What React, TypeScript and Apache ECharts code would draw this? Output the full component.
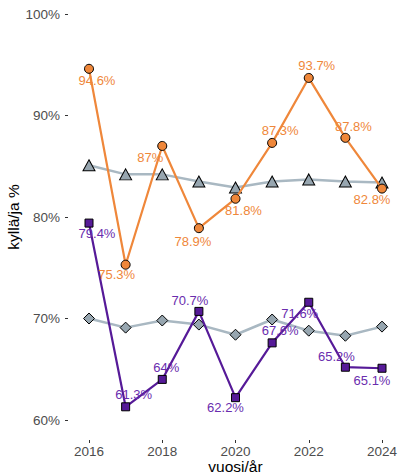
import React, { useEffect, useRef } from "react";
import * as echarts from "echarts";

const years = ["2016", "2017", "2018", "2019", "2020", "2021", "2022", "2023", "2024"];
const orangeValues = [94.6, 75.3, 87, 78.9, 81.8, 87.3, 93.7, 87.8, 82.8];
const purpleValues = [79.4, 61.3, 64, 70.7, 62.2, 67.6, 71.6, 65.2, 65.1];
const grayTriangleValues = [85.1, 84.2, 84.2, 83.5, 82.9, 83.5, 83.7, 83.5, 83.4];
const grayDiamondValues = [70.0, 69.1, 69.8, 69.4, 68.4, 69.9, 68.8, 68.3, 69.2];
const yTicks = [60, 70, 80, 90, 100];

// label offsets (style only)
const orangeOffsets = [[8, 12], [-9, 10], [-12, 12], [-6, 13], [8, 11.5], [8, -12], [8, -12], [8, -11], [-10, 11]];
const purpleOffsets = [[8, 10], [8, -12], [4, -12], [-9, -11], [-10, 10], [8, -12], [-9, 11], [-9, -11], [-10, 12]];

const ORANGE = "#EF873A";
const PURPLE = "#561A98";
const PURPLE_LABEL = "#6A2DAE";
const GRAY_LINE = "#A9B8C2";
const GRAY_FILL = "#97A6B0";
const FONT = "Liberation Sans";

function fmt(v: number) {
  return `${v}%`;
}

export default function App() {
  const ref = useRef<HTMLDivElement>(null);
  useEffect(() => {
    if (!ref.current) return;
    const chart = echarts.init(ref.current, undefined, { renderer: "svg" });
    const labeled = (vals: number[], offs: number[][], color: string) =>
      vals.map((v, i) => ({
        value: v,
        label: {
          show: true,
          position: "inside",
          offset: offs[i],
          formatter: fmt(v),
          color,
          fontSize: 13,
          fontFamily: FONT,
        },
      }));
    chart.setOption({
      animation: false,
      textStyle: { fontFamily: FONT },
      grid: { left: 89, right: 16, top: 14, bottom: 54, outerBoundsMode: "none", containLabel: false },
      xAxis: {
        type: "category",
        data: years,
        boundaryGap: false,
        offset: 20,
        axisLine: { show: false },
        axisTick: { show: true, length: 3, alignWithLabel: true, lineStyle: { color: "#333" } },
        axisLabel: { color: "#4d4d4d", fontSize: 13.5, lineHeight: 13, margin: 5, fontFamily: FONT },
        splitLine: { show: false },
        name: "vuosi/år",
        nameLocation: "middle",
        nameGap: 26.5,
        nameMoveOverlap: false,
        nameTextStyle: { color: "#000", fontSize: 15.5, lineHeight: 15, fontFamily: FONT, verticalAlign: "middle" },
      },
      yAxis: {
        type: "value",
        min: yTicks[0],
        max: yTicks[yTicks.length - 1],
        interval: 10,
        offset: 21,
        axisLine: { show: false },
        axisTick: { show: true, length: 3, lineStyle: { color: "#333" } },
        axisLabel: { color: "#4d4d4d", fontSize: 13.5, margin: 8, formatter: "{value}%", fontFamily: FONT },
        splitLine: { show: false },
        name: "kyllä/ja %",
        nameLocation: "middle",
        nameGap: 55,
        nameMoveOverlap: false,
        nameTextStyle: { color: "#000", fontSize: 15.5, fontFamily: FONT, verticalAlign: "middle" },
      },
      series: [
        {
          type: "line",
          data: grayTriangleValues,
          symbol: "triangle",
          symbolSize: [12, 11],
          lineStyle: { color: GRAY_LINE, width: 2.5 },
          itemStyle: { color: GRAY_FILL, borderColor: "#000", borderWidth: 1 },
          z: 1,
        },
        {
          type: "line",
          data: grayDiamondValues,
          symbol: "diamond",
          symbolSize: [11, 11],
          lineStyle: { color: GRAY_LINE, width: 2.5 },
          itemStyle: { color: GRAY_FILL, borderColor: "#000", borderWidth: 1 },
          z: 1,
        },
        {
          type: "line",
          data: labeled(orangeValues, orangeOffsets, ORANGE),
          symbol: "circle",
          symbolSize: 9,
          lineStyle: { color: ORANGE, width: 2.2 },
          itemStyle: { color: ORANGE, borderColor: "#000", borderWidth: 1 },
          z: 3,
        },
        {
          type: "line",
          data: labeled(purpleValues, purpleOffsets, PURPLE_LABEL),
          symbol: "rect",
          symbolSize: 8,
          lineStyle: { color: PURPLE, width: 2.2 },
          itemStyle: { color: PURPLE, borderColor: "#000", borderWidth: 1 },
          z: 3,
        },
      ],
    });
    return () => chart.dispose();
  }, []);
  return <div ref={ref} style={{ width: 398, height: 474, position: "absolute", left: 0, top: 0, background: "#fff" }} />;
}
